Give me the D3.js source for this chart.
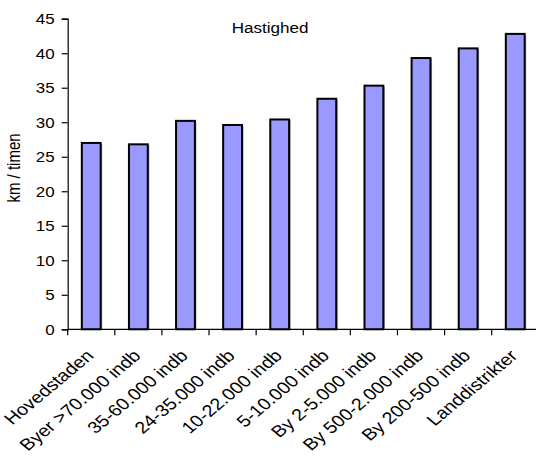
<!DOCTYPE html>
<html>
<head>
<meta charset="utf-8">
<script src="https://cdn.jsdelivr.net/npm/d3@7"></script>
<style>
  html, body { margin: 0; padding: 0; background: #fff; }
  svg { display: block; font-family: "Liberation Sans", Arial, Helvetica, sans-serif; }
</style>
</head>
<body>
<svg id="chart" width="536" height="457"></svg>
<script>
// Gennemsnitlig hastighed efter bystørrelse
const categories = [
  "Hovedstaden", "Byer >70.000 indb", "35-60.000 indb", "24-35.000 indb",
  "10-22.000 indb", "5-10.000 indb", "By 2-5.000 indb", "By 500-2.000 indb",
  "By 200-500 indb", "Landdistrikter"
];
const speeds = [27.0, 26.8, 30.2, 29.6, 30.4, 33.4, 35.3, 39.3, 40.7, 42.8];
const yTicks = [0, 5, 10, 15, 20, 25, 30, 35, 40, 45];
const title = "Hastighed";
const yTitle = "km / timen";

// the whole chart is drawn slightly wide: text is widened by this factor
const stretchX = 1.2;

const svg = d3.select("#chart");

const plot = { left: 67.7, right: 538.8, top: 18.7, bottom: 329.3 };

const x = d3.scaleBand()
  .domain(categories)
  .range([plot.left, plot.right])
  .paddingInner(0.6)
  .paddingOuter(0.3);

const y = d3.scaleLinear()
  .domain([0, 45])
  .range([plot.bottom, plot.top]);

const step = x.step();
const gap = (step - x.bandwidth()) / 2;

// bars, with a faint grey shade along the right edge
const bars = svg.append("g");
bars.selectAll("rect.shade")
  .data(categories)
  .join("rect")
  .attr("class", "shade")
  .attr("x", d => x(d) + 1.6)
  .attr("y", (d, i) => y(speeds[i]) + 1)
  .attr("width", x.bandwidth())
  .attr("height", (d, i) => y(0) - y(speeds[i]) - 1)
  .attr("fill", "#a8a8a8");

bars.selectAll("rect.bar")
  .data(categories)
  .join("rect")
  .attr("class", "bar")
  .attr("x", d => x(d))
  .attr("y", (d, i) => y(speeds[i]))
  .attr("width", x.bandwidth())
  .attr("height", (d, i) => y(0) - y(speeds[i]))
  .attr("fill", "#9999ff")
  .attr("stroke", "#000")
  .attr("stroke-width", 2);

// y axis
const yAxis = svg.append("g")
  .attr("transform", `translate(${plot.left},0)`)
  .call(d3.axisLeft(y).tickValues(yTicks).tickSize(6).tickFormat(d3.format("d")));
yAxis.select(".domain").attr("stroke", "#000").attr("stroke-width", 1.2);
yAxis.selectAll(".tick line").attr("stroke", "#000").attr("stroke-width", 1.2);
yAxis.selectAll(".tick text")
  .attr("x", 0)
  .attr("transform", "translate(-13,0) scale(1.13,1)")
  .attr("font-size", 15)
  .attr("fill", "#000")
  .attr("font-family", "Liberation Sans, Arial, sans-serif");

// x axis line and category separators
const xAxis = svg.append("g");
xAxis.append("line")
  .attr("x1", plot.left).attr("x2", 536)
  .attr("y1", y(0)).attr("y2", y(0))
  .attr("stroke", "#000").attr("stroke-width", 1.2);
const boundaries = categories.map(d => x(d) - gap);
xAxis.selectAll("line.sep")
  .data(boundaries)
  .join("line")
  .attr("class", "sep")
  .attr("x1", d => d).attr("x2", d => d)
  .attr("y1", y(0)).attr("y2", y(0) + 6)
  .attr("stroke", "#000").attr("stroke-width", 1.2);

// rotated category labels
xAxis.selectAll("text.cat")
  .data(categories)
  .join("text")
  .attr("class", "cat")
  .attr("text-anchor", "end")
  .attr("font-size", 16.5)
  .attr("fill", "#000")
  .attr("transform", d =>
    `translate(${x(d) + x.bandwidth() / 2 + 3.5},${y(0) + 27.5}) scale(${stretchX},1) rotate(-45)`)
  .text(d => d);

// chart title
svg.append("text")
  .attr("transform", "translate(270,33) scale(1.1,1)")
  .attr("text-anchor", "middle")
  .attr("font-size", 15.5)
  .attr("fill", "#000")
  .text(title);

// y axis title
svg.append("text")
  .attr("transform", `translate(20,168) scale(${stretchX},1) rotate(-90)`)
  .attr("text-anchor", "middle")
  .attr("font-size", 15)
  .attr("fill", "#000")
  .text(yTitle);
</script>
</body>
</html>
